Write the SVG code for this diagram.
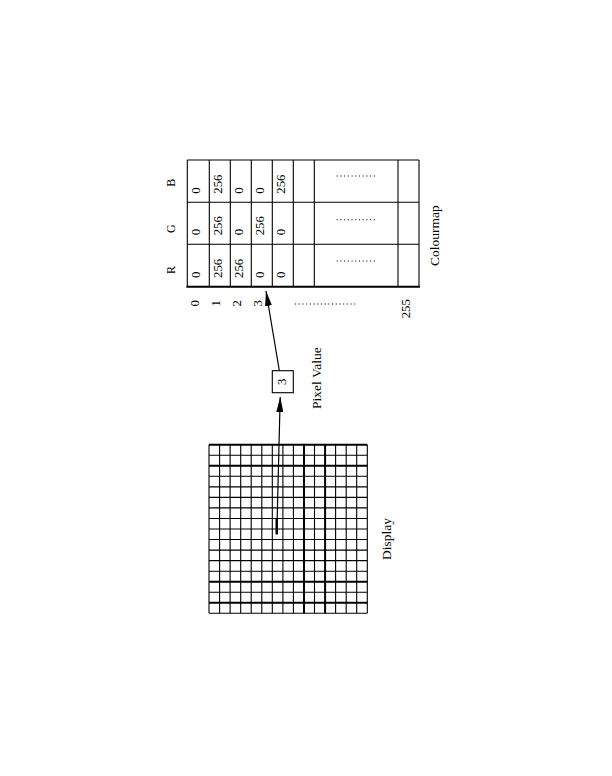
<svg xmlns="http://www.w3.org/2000/svg" width="612" height="776" viewBox="0 0 612 776">
<style>
.bg{fill:#ffffff}
.thin{stroke:#000;stroke-width:1.1;fill:none}
.thick{stroke:#000;stroke-width:2;fill:none}
.dots{stroke:#000;stroke-width:1.1;stroke-dasharray:1.1 2.6;fill:none}
.conn{stroke:#000;stroke-width:1.2;fill:none}
.t{font-family:"Liberation Serif","Times New Roman",serif;fill:#000}
.lbl{font-size:13.5px}
.num{font-size:12.8px}
.hdr{font-size:12px}
</style>
<defs>
<marker id="arrow" viewBox="0 0 15 7" refX="15" refY="3.5" markerWidth="15" markerHeight="7" markerUnits="userSpaceOnUse" orient="auto">
<path d="M0,0 L15,3.5 L0,7 z" fill="#000"/>
</marker>
</defs>
<rect class="bg" x="0" y="0" width="612" height="776"/>

<g id="display">
<path class="thin" d="M209,444.7V613.3M219.6,444.7V613.3M230.1,444.7V613.3M240.7,444.7V613.3M251.2,444.7V613.3M261.8,444.7V613.3M272.3,444.7V613.3M282.9,444.7V613.3M293.4,444.7V613.3M314.5,444.7V613.3M335.6,444.7V613.3M346.2,444.7V613.3M356.7,444.7V613.3M367.3,444.7V613.3M209,455.2H367.3M209,476.3H367.3M209,486.9H367.3M209,497.4H367.3M209,507.9H367.3M209,518.5H367.3M209,529H367.3M209,539.5H367.3M209,550.1H367.3M209,560.6H367.3M209,571.2H367.3M209,592.2H367.3M209,613.3H367.3"/>
<path class="thick" d="M304,444.7V613.3M325.1,444.7V613.3M209,444.7H367.3M209,465.8H367.3M209,581.7H367.3M209,602.8H367.3"/>
<text class="t lbl" transform="translate(390.7,560) rotate(-90)">Display</text>
</g>

<g id="pixel-value">
<rect class="thin" x="272.3" y="370.7" width="21" height="22"/>
<text class="t num" text-anchor="middle" transform="translate(286,381.8) rotate(-90)">3</text>
<text class="t lbl" transform="translate(320.5,409) rotate(-90)">Pixel Value</text>
</g>

<g id="colourmap">
<path class="thin" d="M187.3,160H419M187.3,202.3H419M187.3,244.3H419M187.3,160V286.7M209.3,160V286.7M230.3,160V286.7M251.3,160V286.7M272.3,160V286.7M293.3,160V286.7M314.3,160V286.7M398,160V286.7M419,160V286.7"/>
<path class="thick" d="M186.4,286.7H419.9"/>
<text class="t hdr" text-anchor="middle" transform="translate(174.5,182.7) rotate(-90)">B</text>
<text class="t hdr" text-anchor="middle" transform="translate(174.5,228.7) rotate(-90)">G</text>
<text class="t hdr" text-anchor="middle" transform="translate(174.5,270) rotate(-90)">R</text>
<text class="t num" transform="translate(199.6,193.7) rotate(-90)">0</text>
<text class="t num" transform="translate(221.6,193.7) rotate(-90)">256</text>
<text class="t num" transform="translate(242.6,193.7) rotate(-90)">0</text>
<text class="t num" transform="translate(263.6,193.7) rotate(-90)">0</text>
<text class="t num" transform="translate(284.6,193.7) rotate(-90)">256</text>
<text class="t num" transform="translate(199.6,235.3) rotate(-90)">0</text>
<text class="t num" transform="translate(221.6,235.3) rotate(-90)">256</text>
<text class="t num" transform="translate(242.6,235.3) rotate(-90)">0</text>
<text class="t num" transform="translate(263.6,235.3) rotate(-90)">256</text>
<text class="t num" transform="translate(284.6,235.3) rotate(-90)">0</text>
<text class="t num" transform="translate(199.6,278) rotate(-90)">0</text>
<text class="t num" transform="translate(221.6,278) rotate(-90)">256</text>
<text class="t num" transform="translate(242.6,278) rotate(-90)">256</text>
<text class="t num" transform="translate(263.6,278) rotate(-90)">0</text>
<text class="t num" transform="translate(284.6,278) rotate(-90)">0</text>
<path class="dots" d="M336.7,176H377M336.7,219.7H377M336.7,261H377M295,304H356"/>
<text class="t num" transform="translate(198.5,306.5) rotate(-90)">0</text>
<text class="t num" transform="translate(219.5,306.5) rotate(-90)">1</text>
<text class="t num" transform="translate(240.5,306.5) rotate(-90)">2</text>
<text class="t num" transform="translate(261.5,306.5) rotate(-90)">3</text>
<text class="t num" transform="translate(409.5,318.3) rotate(-90)">255</text>
<text class="t lbl" transform="translate(438.5,266) rotate(-90)">Colourmap</text>
</g>

<g id="connectors">
<line class="conn" x1="276.8" y1="534" x2="280.2" y2="397" marker-end="url(#arrow)"/>
<line x1="276.7" y1="518" x2="276.7" y2="534.5" stroke="#000" stroke-width="2.4"/>
<line class="conn" x1="279.3" y1="370.5" x2="266" y2="291" marker-end="url(#arrow)"/>
</g>
</svg>
